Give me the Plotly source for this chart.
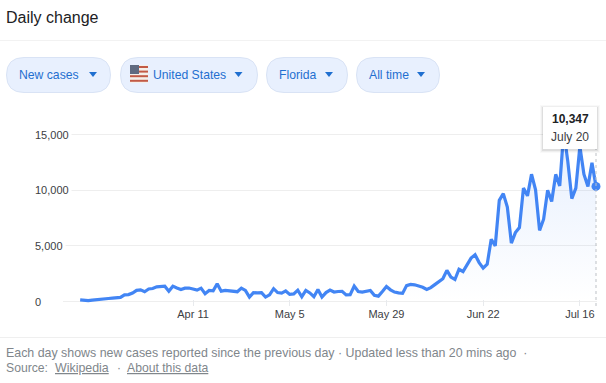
import plotly.graph_objects as go
import pandas as pd

W, H = 606, 383

start_date = "2020-03-14"
new_cases = [
    150, 100, 80, 130, 180, 200, 230, 270, 300, 350,
    370, 600, 620, 760, 1000, 1050, 880, 1130, 1170, 1320,
    1360, 1370, 930, 1380, 1210, 1080, 1200, 1210, 1120, 1020,
    1200, 700, 990, 960, 1590, 930, 1000, 960, 950, 880,
    1200, 1000, 390, 800, 770, 800, 400, 600, 1150, 800,
    750, 950, 640, 680, 1020, 430, 990, 770, 430, 1080,
    400, 800, 1020, 850, 900, 920, 600, 620, 1380, 900,
    840, 880, 990, 550, 480, 900, 1350, 1050, 850, 780,
    730, 1430, 1530, 1500, 1400, 1280, 1080, 1250, 1520, 1800,
    2050, 2800, 2200, 1980, 2900, 2700, 3250, 3900, 4200, 3500,
    3000, 3350, 5600, 5000, 9100, 9700, 8500, 5250, 6200, 6650,
    10200, 9500, 11450, 10050, 6400, 7400, 10000, 9000, 11430, 10400,
    15300, 12600, 9250, 10200, 13950, 11450, 10350, 12480, 10347,
]
dates = pd.date_range(start_date, periods=len(new_cases)).strftime("%Y-%m-%d").tolist()

x_tick_dates = ["2020-04-11", "2020-05-05", "2020-05-29", "2020-06-22", "2020-07-16"]
x_tick_labels = ["Apr 11", "May 5", "May 29", "Jun 22", "Jul 16"]
y_tick_values = [0, 5000, 10000, 15000]
y_tick_labels = ["0", "5,000", "10,000", "15,000"]

title_text = "Daily change"
pill_labels = ["New cases", "United States", "Florida", "All time"]
tooltip_value = "10,347"
tooltip_date = "July 20"
footer_line1 = "Each day shows new cases reported since the previous day · Updated less than 20 mins ago  ·"

FONT = "Liberation Sans, Arial, sans-serif"
BLUE = "#4285f4"


def px(x):
    return x / W


def py(y):
    return 1 - y / H


def rrect(x0, y0, x1, y1, r):
    a, b, c, d = px(x0), py(y0), px(x1), py(y1)
    rx, ry = r / W, r / H
    return (f"M {a + rx} {b} L {c - rx} {b} Q {c} {b} {c} {b - ry} "
            f"L {c} {d + ry} Q {c} {d} {c - rx} {d} L {a + rx} {d} "
            f"Q {a} {d} {a} {d + ry} L {a} {b - ry} Q {a} {b} {a + rx} {b} Z")


shapes = []
annotations = []


def text(x, y, s, size=12, color="#202124", anchor="left"):
    annotations.append(dict(xref="paper", yref="paper", x=px(x), y=py(y), text=s, showarrow=False,
                            xanchor=anchor, yanchor="middle", font=dict(family=FONT, size=size, color=color),
                            borderpad=0, borderwidth=0))


def rect(x0, y0, x1, y1, fill, line=None):
    shapes.append(dict(type="rect", xref="paper", yref="paper", x0=px(x0), x1=px(x1), y0=py(y0), y1=py(y1),
                       fillcolor=fill, line=dict(width=1 if line else 0, color=line or fill), layer="above"))


fig = go.Figure()
fig.add_trace(go.Scatter(
    x=dates, y=new_cases, mode="lines", line=dict(color=BLUE, width=3.2), fill="tozeroy",
    fillgradient=dict(type="vertical",
                      colorscale=[[0, "rgba(66,133,244,0)"], [0.75, "rgba(66,133,244,0.10)"],
                                  [1, "rgba(66,133,244,0.14)"]]),
    hoverinfo="skip", cliponaxis=True))
fig.add_trace(go.Scatter(
    x=dates[-1:], y=new_cases[-1:], mode="markers", marker=dict(color=BLUE, size=9),
    hoverinfo="skip", cliponaxis=False))

# dividers
rect(0, 40, W, 40.6, "#e6e6e6")
rect(0, 337, W, 337.6, "#e0e0e0")
text(6, 17, title_text, size=16, color="#202124")

# pills
pill_boxes = [(6, 111), (120, 258), (266, 348), (356, 440)]
pill_text_x = [19, 153, 279, 369]
caret_x = [93, 238.5, 329, 421]
for (a, b), tx, cx, lab in zip(pill_boxes, pill_text_x, caret_x, pill_labels):
    shapes.append(dict(type="path", path=rrect(a + .5, 57.5, b - .5, 92.5, 17.5), xref="paper", yref="paper",
                       fillcolor="#e8f0fe", line=dict(color="#d9e3f5", width=1), layer="above"))
    text(tx, 75, lab, size=12.2, color="#1f6fd0")
    shapes.append(dict(type="path", xref="paper", yref="paper",
                       path=f"M {px(cx-4)} {py(72)} L {px(cx+4)} {py(72)} L {px(cx)} {py(77)} Z",
                       fillcolor="#1f6fd0", line=dict(width=0), layer="above"))

# flag
rect(130, 65, 148, 83, "#f4efe9")
for i in range(4):
    rect(130, 66 + i * 4.6, 148, 68 + i * 4.6, "#c25a46")
rect(130, 65, 139, 74, "#5f6a80")

# y tick labels, left aligned as in the reference, with a white box that hides the grid behind them
for v, lab in zip(y_tick_values, y_tick_labels):
    annotations.append(dict(xref="paper", yref="y", x=px(32), y=v, text=lab, showarrow=False, xanchor="left",
                            yanchor="middle", bgcolor="white", borderpad=2,
                            font=dict(family=FONT, size=11, color="#3c4043")))

# cursor guide
shapes.append(dict(type="line", xref="x", yref="paper", x0=dates[-1], x1=dates[-1], y0=py(306), y1=py(149),
                   line=dict(color="#bdc1c6", width=1, dash="dot"), layer="above"))

# tooltip
for grow, col in [(3, "rgba(0,0,0,0.025)"), (2, "rgba(0,0,0,0.04)"), (1, "rgba(0,0,0,0.07)")]:
    rect(543 - grow, 107 - grow + 1, 597 + grow, 149 + grow + 1, col)
rect(543, 107, 597, 149, "#ffffff")
text(570, 118.5, f"<b>{tooltip_value}</b>", size=12, color="#202124", anchor="center")
text(570, 137.5, tooltip_date, size=12, color="#3c4043", anchor="center")

# footer
text(6, 352.5, footer_line1, size=12.4, color="#80868b")
text(6, 367.5, "Source:", size=12.2, color="#80868b")
text(55, 367.5, "<u>Wikipedia</u>", size=12.4, color="#80868b")
text(117.5, 367.5, "·", size=12, color="#80868b")
text(127, 367.5, "<u>About this data</u>", size=12.2, color="#80868b")

PLOT_L, PLOT_R, PLOT_T, PLOT_B = 63, 597, 122, 306
DAY_PX = 4.03
x0 = pd.Timestamp("2020-07-20") - pd.Timedelta(days=(596 - PLOT_L) / DAY_PX)
x1 = pd.Timestamp("2020-07-20") + pd.Timedelta(days=(PLOT_R - 596) / DAY_PX)
PX_PER_UNIT = 55.6 / 5000
y_low = -(PLOT_B - 301.5) / PX_PER_UNIT
y_high = (301.5 - PLOT_T) / PX_PER_UNIT

fig.update_layout(
    width=W, height=H, margin=dict(l=0, r=0, t=0, b=0), autosize=False,
    paper_bgcolor="white", plot_bgcolor="white", showlegend=False,
    font=dict(family=FONT, size=12, color="#3c4043"),
    shapes=shapes, annotations=annotations,
    xaxis=dict(domain=[px(PLOT_L), px(PLOT_R)], range=[x0, x1], type="date", tickmode="array",
               tickvals=x_tick_dates, ticktext=x_tick_labels, showgrid=False, zeroline=False, showline=False,
               ticks="inside", ticklen=6, tickwidth=1, tickcolor="#e8eaed",
               tickfont=dict(family=FONT, size=11, color="#3c4043")),
    yaxis=dict(domain=[py(PLOT_B), py(PLOT_T)], range=[y_low, y_high], tickmode="array",
               tickvals=y_tick_values, ticktext=["", "", "", ""], showgrid=True, gridcolor="#eeeeee", gridwidth=1,
               zeroline=False, showline=False, ticks=""),
)

fig.write_html("out.html", config=dict(displayModeBar=False),
               post_script="document.body.style.margin='0';document.documentElement.style.overflow='hidden';")
